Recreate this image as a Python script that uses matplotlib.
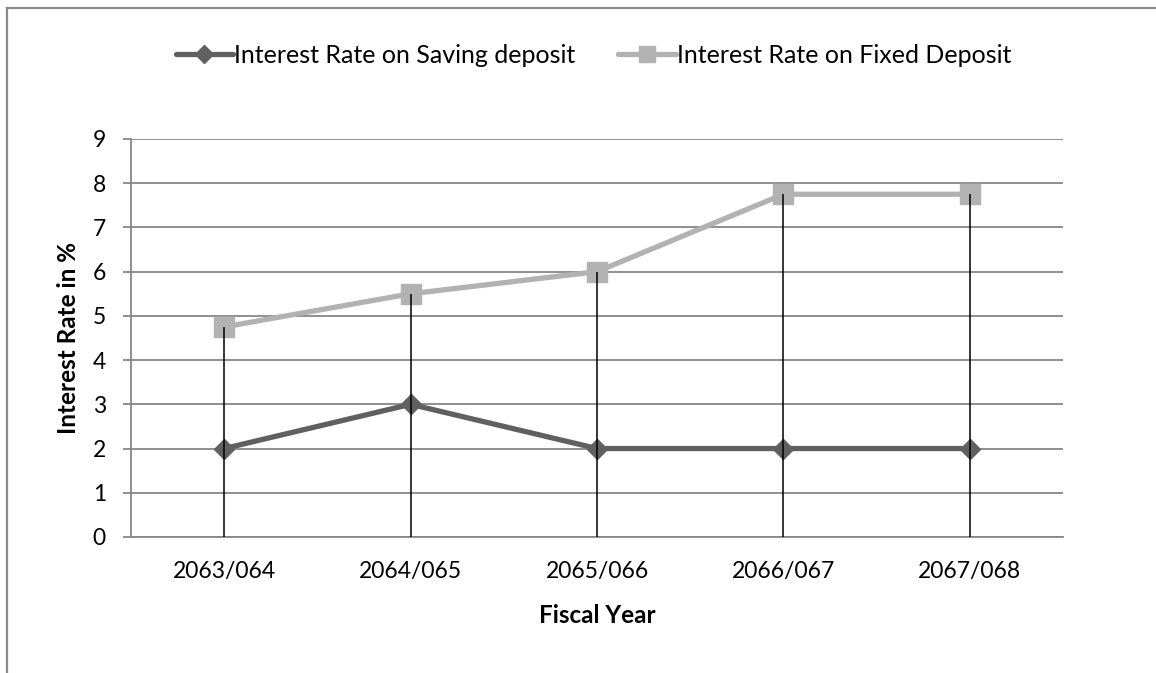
import matplotlib
matplotlib.use("Agg")
import matplotlib.pyplot as plt
from matplotlib.lines import Line2D

# interest rates by fiscal year (%)
years = ["2063/064", "2064/065", "2065/066", "2066/067", "2067/068"]
saving = [2, 3, 2, 2, 2]
fixed = [4.75, 5.5, 6, 7.75, 7.75]

plt.rcParams['font.family'] = ['Lato', 'DejaVu Sans']

dark = '#606060'
light = '#b2b2b2'
grid = '#878787'

fig = plt.figure(figsize=(11.56, 6.73), dpi=100)
ax = fig.add_axes([0.1133, 0.2021, 0.8063, 0.5914])

x = list(range(len(years)))
ax.plot(x, saving, color=dark, lw=3.8, marker='D', ms=10, mec=dark, mfc=dark,
        solid_capstyle='round', zorder=3, label='Interest Rate on Saving deposit')
ax.plot(x, fixed, color=light, lw=3.8, marker='s', ms=14, mec=light, mfc=light,
        solid_capstyle='round', zorder=3, label='Interest Rate on Fixed Deposit')

# drop lines from the higher series down to the axis
tops = [max(a, b) for a, b in zip(saving, fixed)]
ax.vlines(x, 0, tops, color='black', lw=1.1, zorder=4)

ax.set_xlim(-0.5, len(years) - 0.5)
ax.set_ylim(0, 9)
ax.set_yticks(range(0, 10))
ax.set_xticks(x)
ax.set_xticklabels(years)
ax.grid(axis='y', color=grid, lw=1.3, zorder=1)
ax.set_axisbelow(True)

for s in ['top', 'right']:
    ax.spines[s].set_visible(False)
for s in ['left', 'bottom']:
    ax.spines[s].set_color(grid)
    ax.spines[s].set_linewidth(1.3)

ax.tick_params(axis='y', length=6, width=1.3, color=grid, pad=12, labelsize=16.5)
ax.tick_params(axis='x', length=0, pad=17, labelsize=16.5)

ax.set_xlabel('Fiscal Year', fontsize=17.5, fontweight='bold', labelpad=16)
ax.set_ylabel('Interest Rate in %', fontsize=17.5, fontweight='bold', labelpad=9)

handles = [
    Line2D([], [], color=dark, lw=3.8, marker='D', ms=9, solid_capstyle='round'),
    Line2D([], [], color=light, lw=3.8, marker='s', ms=12, solid_capstyle='round'),
]
fig.legend(handles, ['Interest Rate on Saving deposit', 'Interest Rate on Fixed Deposit'],
           loc='center', bbox_to_anchor=(0.5134, 0.918), ncol=2, frameon=False,
           fontsize=18, handlelength=2.3, handletextpad=0.05, columnspacing=1.7)

# chart border (top and left edges)
fig.add_artist(Line2D([7 / 1156, 7 / 1156], [0, 1 - 8 / 673], color='#8a8a8a', lw=1.6,
                      transform=fig.transFigure))
fig.add_artist(Line2D([7 / 1156, 1], [1 - 8 / 673, 1 - 8 / 673], color='#8a8a8a', lw=1.6,
                      transform=fig.transFigure))

fig.savefig('out.png', dpi=100)
